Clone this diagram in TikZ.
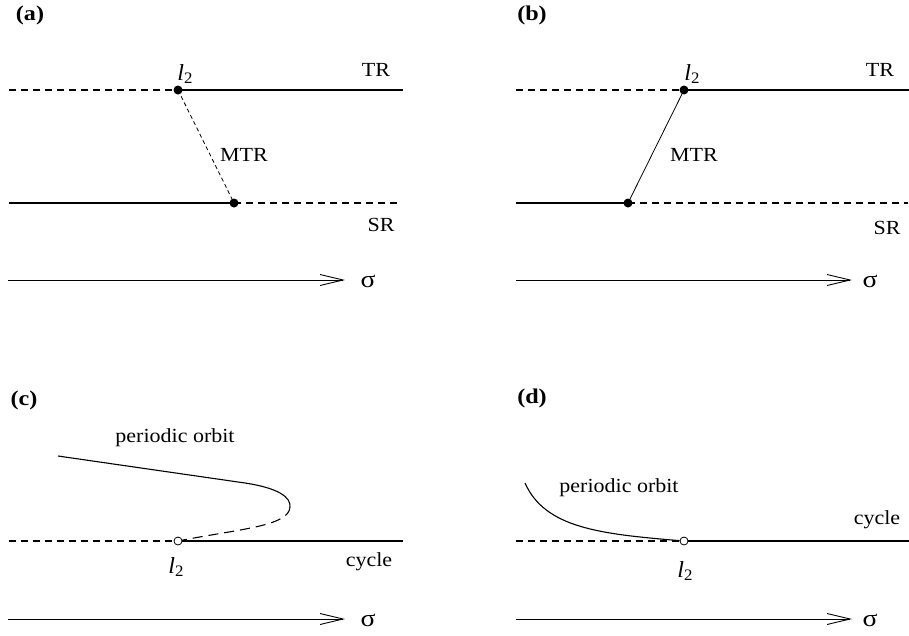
\documentclass[tikz,border=0pt]{standalone}
\usepackage{fontspec}
\setmainfont{Liberation Serif}
\usetikzlibrary{arrows.meta}
\newcommand{\stretchtxt}[1]{\scalebox{1.1}[1]{#1}}
\newcommand{\elltwo}{\scalebox{1.05}[1]{\fontsize{23}{26}\selectfont\itshape l\raisebox{-0.3ex}{\fontsize{16}{18}\selectfont\upshape 2}}}
\newcommand{\sig}{\scalebox{1.15}[1]{\fontsize{24}{26}\selectfont σ}}
\begin{document}
\begin{tikzpicture}[x=1pt,y=-1pt,
  lbl/.style={inner sep=0pt, font=\fontsize{20}{24}\selectfont},
  panel/.style={inner sep=0pt, font=\fontsize{21}{24}\selectfont\bfseries},
  branch/.style={line width=1.1pt},
  dsh/.style={line width=1.1pt, dash pattern=on 7pt off 5pt},
  fdsh/.style={line width=0.8pt, dash pattern=on 4pt off 3pt},
  ldsh/.style={line width=1.1pt, dash pattern=on 10pt off 6pt},
  thinline/.style={line width=0.8pt},
  dot/.style={circle, fill=black, inner sep=0pt, minimum size=9pt},
  odot/.style={circle, draw=black, fill=white, line width=0.8pt, inner sep=0pt, minimum size=8pt},
  axis/.style={line width=0.9pt, -{Straight Barb[length=23pt,width=11pt,line width=0.9pt]}},
]
\useasboundingbox (0,0) rectangle (909,635);

% ---------- (a) ----------
\node[panel] (la) at (30,15) {\scalebox{1.15}[1]{(a)}};
\coordinate (a0) at (9,90);
\node[dot] (a1) at (178,90) {};
\coordinate (a2) at (403,90);
\coordinate (a3) at (9,203);
\node[dot] (a4) at (234,203) {};
\coordinate (a5) at (398,203);
\draw[dsh] (a0) -- (a1.center);
\draw[branch] (a1.center) -- (a2);
\draw[branch] (a3) -- (a4.center);
\draw[dsh] (a4.center) -- (a5);
\draw[fdsh] (a1.center) -- (a4.center);
\node[lbl] (al2) at (185,74) {\elltwo};
\node[lbl] (aTR) at (376,70) {\stretchtxt{TR}};
\node[lbl] (aMTR) at (244,155) {\stretchtxt{MTR}};
\node[lbl] (aSR) at (381,225) {\stretchtxt{SR}};
\coordinate (ax0) at (8,280);
\coordinate (ax1) at (345,280);
\draw[axis] (ax0) -- (ax1);
\node[lbl] (asig) at (368,281) {\sig};

% ---------- (b) ----------
\node[panel] (lb) at (532,15) {\scalebox{1.15}[1]{(b)}};
\coordinate (b0) at (516,90);
\node[dot] (b1) at (684,90) {};
\coordinate (b2) at (909,90);
\coordinate (b3) at (516,203);
\node[dot] (b4) at (628,203) {};
\coordinate (b5) at (908,203);
\draw[dsh] (b0) -- (b1.center);
\draw[branch] (b1.center) -- (b2);
\draw[branch] (b3) -- (b4.center);
\draw[dsh] (b4.center) -- (b5);
\draw[thinline] (b1.center) -- (b4.center);
\node[lbl] (bl2) at (692,74) {\elltwo};
\node[lbl] (bTR) at (880,70) {\stretchtxt{TR}};
\node[lbl] (bMTR) at (694,155) {\stretchtxt{MTR}};
\node[lbl] (bSR) at (887,228) {\stretchtxt{SR}};
\coordinate (bx0) at (516,280);
\coordinate (bx1) at (852,280);
\draw[axis] (bx0) -- (bx1);
\node[lbl] (bsig) at (870,281) {\sig};

% ---------- (c) ----------
\node[panel] (lc) at (24,400) {\scalebox{1.15}[1]{(c)}};
\node[lbl] (cpo) at (175,438) {\stretchtxt{periodic orbit}};
\coordinate (c0) at (9,541);
\node[odot] (c1) at (178,541) {};
\coordinate (c2) at (403,541);
\draw[dsh] (c0) -- (c1);
\draw[branch] (c1) -- (c2);
\coordinate (cs) at (58,456);
\coordinate (cm) at (245,483);
\coordinate (ctip) at (290,507);
\draw[branch] (cs) -- (cm) .. controls (278,488) and (291,497) .. (ctip);
\draw[ldsh] (ctip) .. controls (289,526) and (240,529) .. (c1);
\node[lbl] (cl2) at (176,567) {\elltwo};
\node[lbl] (ccy) at (369,562) {\stretchtxt{cycle}};
\coordinate (cx0) at (8,619);
\coordinate (cx1) at (345,619);
\draw[axis] (cx0) -- (cx1);
\node[lbl] (csig) at (368,620) {\sig};

% ---------- (d) ----------
\node[panel] (ld) at (532,398) {\scalebox{1.15}[1]{(d)}};
\node[lbl] (dpo) at (619,488) {\stretchtxt{periodic orbit}};
\coordinate (d0) at (516,541);
\node[odot] (d1) at (684,541) {};
\coordinate (d2) at (909,541);
\draw[dsh] (d0) -- (d1);
\draw[branch] (d1) -- (d2);
\coordinate (ds) at (525,483);
\draw[branch] (ds) .. controls (545,528) and (600,534) .. (d1);
\node[lbl] (dl2) at (685,571) {\elltwo};
\node[lbl] (dcy) at (877,520) {\stretchtxt{cycle}};
\coordinate (dx0) at (516,619);
\coordinate (dx1) at (852,619);
\draw[axis] (dx0) -- (dx1);
\node[lbl] (dsig) at (870,620) {\sig};
\end{tikzpicture}
\end{document}
